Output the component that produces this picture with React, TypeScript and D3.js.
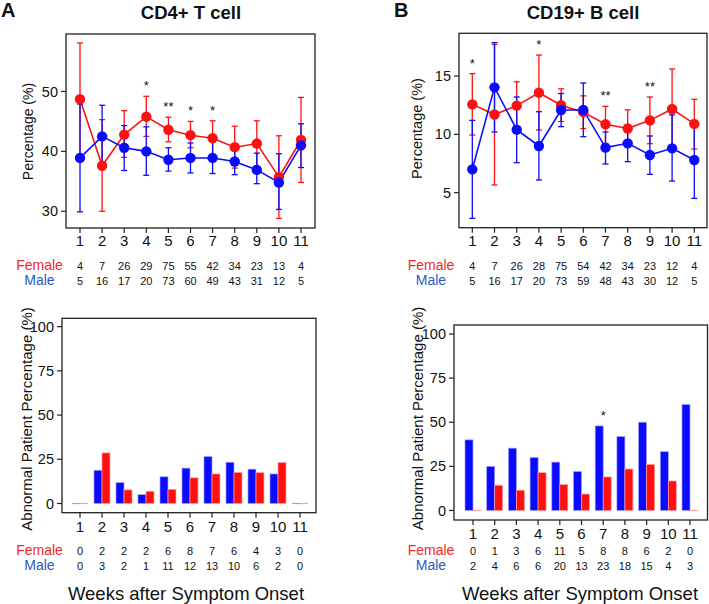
import React from "react";
import * as d3 from "d3";

const weeks = [1, 2, 3, 4, 5, 6, 7, 8, 9, 10, 11];

// CD4+ T cell percentage (mean, lower, upper)
const cd4FemaleMean = [48.7, 37.6, 42.8, 45.8, 43.6, 42.7, 42.2, 40.7, 41.3, 35.7, 41.9];
const cd4FemaleLower = [39.3, 30.0, 39.0, 42.5, 41.6, 40.6, 39.3, 37.2, 37.5, 28.8, 34.8];
const cd4FemaleUpper = [58.1, 45.3, 46.8, 49.2, 45.7, 45.0, 45.1, 44.2, 45.1, 42.6, 49.0];
const cd4MaleMean = [38.9, 42.5, 40.6, 40.0, 38.6, 38.9, 38.9, 38.3, 36.9, 34.8, 41.0];
const cd4MaleLower = [29.9, 37.3, 36.8, 36.0, 36.7, 36.4, 36.3, 36.1, 34.6, 30.3, 37.3];
const cd4MaleUpper = [47.9, 47.7, 44.3, 44.1, 40.6, 41.4, 41.6, 40.5, 39.7, 39.6, 44.6];
const cd4FemaleN = [4, 7, 26, 29, 75, 55, 42, 34, 23, 13, 4];
const cd4MaleN = [5, 16, 17, 20, 73, 60, 49, 43, 31, 12, 5];
const cd4StarWeeks = [4, 5, 6, 7];
const cd4StarLabels = ["*", "**", "*", "*"];
const cd4YTicks = [30, 40, 50];

// CD19+ B cell percentage
const cd19FemaleMean = [12.57, 11.7, 12.46, 13.57, 12.5, 11.9, 10.86, 10.5, 11.2, 12.17, 10.9];
const cd19FemaleLower = [9.94, 5.66, 10.4, 10.37, 11.1, 10.5, 9.2, 8.9, 9.2, 8.8, 8.74];
const cd19FemaleUpper = [15.2, 17.7, 14.5, 16.8, 13.9, 13.3, 12.4, 12.1, 13.2, 15.6, 13.0];
const cd19MaleMean = [7.0, 14.03, 10.4, 9.0, 12.09, 12.09, 8.86, 9.23, 8.23, 8.8, 7.8];
const cd19MaleLower = [2.8, 10.2, 7.57, 6.09, 10.66, 9.8, 7.46, 7.66, 6.57, 6.0, 4.51];
const cd19MaleUpper = [11.2, 17.86, 13.2, 11.94, 13.5, 14.4, 10.2, 10.8, 9.86, 11.66, 11.1];
const cd19FemaleN = [4, 7, 26, 28, 75, 54, 42, 34, 23, 12, 4];
const cd19MaleN = [5, 16, 17, 20, 73, 59, 48, 43, 30, 12, 5];
const cd19StarWeeks = [1, 4, 7, 9];
const cd19StarLabels = ["*", "*", "**", "**"];
const cd19YTicks = [5, 10, 15];

// Abnormal patient percentage
const cd4AbnMale = [0, 18.8, 11.8, 5.0, 15.1, 20.0, 26.5, 23.3, 19.4, 16.7, 0];
const cd4AbnFemale = [0, 28.6, 7.7, 6.9, 8.0, 14.5, 16.7, 17.6, 17.4, 23.1, 0];
const cd4AbnFemaleN = [0, 2, 2, 2, 6, 8, 7, 6, 4, 3, 0];
const cd4AbnMaleN = [0, 3, 2, 1, 11, 12, 13, 10, 6, 2, 0];
const cd4AbnStarWeeks: number[] = [];
const cd4AbnStarLabels: string[] = [];

const cd19AbnMale = [40, 25, 35.3, 30, 27.4, 22.0, 47.9, 41.9, 50, 33.3, 60];
const cd19AbnFemale = [0, 14.3, 11.5, 21.4, 14.7, 9.3, 19.0, 23.5, 26.1, 16.7, 0];
const cd19AbnFemaleN = [0, 1, 3, 6, 11, 5, 8, 8, 6, 2, 0];
const cd19AbnMaleN = [2, 4, 6, 6, 20, 13, 23, 18, 15, 4, 3];
const cd19AbnStarWeeks = [7];
const cd19AbnStarLabels = ["*"];
const abnYTicks = [0, 25, 50, 75, 100];

const FONT = "'Liberation Sans', Arial, Helvetica, sans-serif";
const RED = "#ff1010";
const BLUE = "#0a0aff";
const RED_LIGHT = "#ffa0a0";
const BLUE_LIGHT = "#9c9cff";
const FEMALE_TXT = "#f02828";
const MALE_TXT = "#2c58c6";
const AXIS = "#222";

function XAxis({ x, bottom, baseline }: any) {
  return (
    <g>
      {weeks.map((w) => (
        <g key={w}>
          <line x1={x(w)} x2={x(w)} y1={bottom} y2={bottom + 5} stroke={AXIS} strokeWidth={1.2} />
          <text x={x(w)} y={baseline} fontSize={15} textAnchor="middle" fill="#111" fontFamily={FONT}>
            {w}
          </text>
        </g>
      ))}
    </g>
  );
}

function YAxis({ y, left, ticks }: any) {
  return (
    <g>
      {ticks.map((t: number) => (
        <g key={t}>
          <line x1={left - 5} x2={left} y1={y(t)} y2={y(t)} stroke={AXIS} strokeWidth={1.2} />
          <text x={left - 8} y={y(t)} dy="0.35em" fontSize={14.5} textAnchor="end" fill="#111" fontFamily={FONT}>
            {t}
          </text>
        </g>
      ))}
    </g>
  );
}

function Counts({ x, labelX, fBase, mBase, fN, mN }: any) {
  return (
    <g fontFamily={FONT}>
      <text x={labelX} y={fBase} fontSize={14} textAnchor="middle" fill={FEMALE_TXT}>Female</text>
      <text x={labelX} y={mBase} fontSize={14} textAnchor="middle" fill={MALE_TXT}>Male</text>
      {weeks.map((w, i) => (
        <g key={w}>
          <text x={x(w)} y={fBase} fontSize={11} textAnchor="middle" fill="#111">{fN[i]}</text>
          <text x={x(w)} y={mBase} fontSize={11} textAnchor="middle" fill="#111">{mN[i]}</text>
        </g>
      ))}
    </g>
  );
}

function Series({ x, y, mean, lower, upper, color, part }: any) {
  const line = d3
    .line<number>()
    .x((_, i) => x(weeks[i]))
    .y((d) => y(d));
  if (part === "dots") {
    return (
      <g>
        {mean.map((m: number, i: number) => (
          <circle key={i} cx={x(weeks[i])} cy={y(m)} r={5.2} fill={color} />
        ))}
      </g>
    );
  }
  return (
    <g>
      {mean.map((m: number, i: number) => {
        const cx = x(weeks[i]);
        return (
          <g key={i} stroke={color} strokeWidth={1.3}>
            <line x1={cx} x2={cx} y1={y(lower[i])} y2={y(upper[i])} />
            <line x1={cx - 3} x2={cx + 3} y1={y(lower[i])} y2={y(lower[i])} />
            <line x1={cx - 3} x2={cx + 3} y1={y(upper[i])} y2={y(upper[i])} />
          </g>
        );
      })}
      <path d={line(mean) || ""} fill="none" stroke={color} strokeWidth={1.6} />
    </g>
  );
}

function LinePanel(p: any) {
  const x = d3.scaleLinear().domain([1, 11]).range([p.xStart, p.xEnd]);
  const y = d3.scaleLinear().domain(p.yDomain).range([p.bottom, p.top]);
  return (
    <g>
      <text x={p.letterX} y={17} fontSize={20} fontWeight="bold" fontFamily={FONT} fill="#111">{p.letter}</text>
      <text x={p.titleX} y={19} fontSize={18.5} fontWeight="bold" textAnchor="middle" fontFamily={FONT} fill="#111">
        {p.title}
      </text>
      <rect x={p.left} y={p.top} width={p.right - p.left} height={p.bottom - p.top} fill="none" stroke={AXIS} strokeWidth={1.3} />
      <YAxis y={y} left={p.left} ticks={p.yTicks} />
      <XAxis x={x} bottom={p.bottom} baseline={p.tickBaseline} />
      <text
        transform={`translate(${p.yLabelX},${p.yLabelY}) rotate(-90)`}
        fontSize={p.yLabelSize}
        textAnchor="middle"
        dominantBaseline="central"
        fontFamily={FONT}
        fill="#111"
      >
        Percentage (%)
      </text>
      <Series x={x} y={y} mean={p.fMean} lower={p.fLo} upper={p.fHi} color={RED} />
      <Series x={x} y={y} mean={p.mMean} lower={p.mLo} upper={p.mHi} color={BLUE} />
      <Series x={x} y={y} mean={p.fMean} color={RED} part="dots" />
      <Series x={x} y={y} mean={p.mMean} color={BLUE} part="dots" />
      {p.starWeeks.map((w: number, k: number) => {
        const i = weeks.indexOf(w);
        const top = Math.max(p.fHi[i], p.mHi[i]);
        return (
          <text key={w} x={x(w)} y={y(top) - 6} fontSize={13} textAnchor="middle" fontFamily={FONT} fill="#111">
            {p.starLabels[k]}
          </text>
        );
      })}
      <Counts x={x} labelX={p.countLabelX} fBase={270} mBase={285} fN={p.fN} mN={p.mN} />
    </g>
  );
}

function Bar({ x0, y, value, fill, light, bw }: any) {
  const y0 = y(0);
  if (value <= 0) {
    return <line x1={x0} x2={x0 + bw} y1={y0} y2={y0} stroke={light} strokeWidth={1.2} />;
  }
  return (
    <rect x={x0} y={y(value)} width={bw} height={y0 - y(value)} fill={fill} stroke={light} strokeWidth={0.7} />
  );
}

function BarPanel(p: any) {
  const x = d3.scaleLinear().domain([1, 11]).range([p.xStart, p.xEnd]);
  const y = d3.scaleLinear().domain(p.yDomain).range([p.bottom, p.top]);
  const bw = 8;
  return (
    <g>
      <rect x={p.left} y={p.top} width={p.right - p.left} height={p.bottom - p.top} fill="none" stroke={AXIS} strokeWidth={1.3} />
      <YAxis y={y} left={p.left} ticks={abnYTicks} />
      <XAxis x={x} bottom={p.bottom} baseline={p.tickBaseline} />
      <text
        transform={`translate(${p.yLabelX},${p.yLabelY}) rotate(-90)`}
        fontSize={15}
        textAnchor="middle"
        dominantBaseline="central"
        fontFamily={FONT}
        fill="#111"
      >
        Abnormal Patient Percentage (%)
      </text>
      {weeks.map((w, i) => {
        const cx = x(w);
        return (
          <g key={w}>
            <Bar x0={cx - bw} y={y} value={p.male[i]} fill={BLUE} light={BLUE_LIGHT} bw={bw} />
            <Bar x0={cx} y={y} value={p.female[i]} fill={RED} light={RED_LIGHT} bw={bw} />
          </g>
        );
      })}
      {p.starWeeks.map((w: number, k: number) => {
        const i = weeks.indexOf(w);
        return (
          <text key={w} x={x(w)} y={y(p.male[i]) - 6} fontSize={13} textAnchor="middle" fontFamily={FONT} fill="#111">
            {p.starLabels[k]}
          </text>
        );
      })}
      <Counts x={x} labelX={p.countLabelX} fBase={555} mBase={570} fN={p.fN} mN={p.mN} />
      <text x={p.xLabelX} y={600} fontSize={18.5} textAnchor="middle" fontFamily={FONT} fill="#111">
        Weeks after Symptom Onset
      </text>
    </g>
  );
}

export default function App() {
  return (
    <svg
      width={709}
      height={604}
      viewBox="0 0 709 604"
      style={{ position: "absolute", left: 0, top: 0, background: "#fff" }}
    >
      <rect x={0} y={0} width={709} height={604} fill="#fff" />
      <LinePanel
        letter="A" letterX={1} title="CD4+ T cell" titleX={191}
        left={66} right={315} top={34} bottom={228}
        xStart={80} xEnd={301}
        yDomain={[27.2, 59.6]} yTicks={cd4YTicks}
        tickBaseline={246}
        yLabelX={28} yLabelY={131.5} yLabelSize={14}
        fMean={cd4FemaleMean} fLo={cd4FemaleLower} fHi={cd4FemaleUpper}
        mMean={cd4MaleMean} mLo={cd4MaleLower} mHi={cd4MaleUpper}
        starWeeks={cd4StarWeeks} starLabels={cd4StarLabels}
        countLabelX={39.5} fN={cd4FemaleN} mN={cd4MaleN}
      />
      <LinePanel
        letter="B" letterX={394} title="CD19+ B cell" titleX={583}
        left={459} right={707} top={33.3} bottom={227.7}
        xStart={472.3} xEnd={694.3}
        yDomain={[2.0, 18.66]} yTicks={cd19YTicks}
        tickBaseline={245.5}
        yLabelX={417} yLabelY={128.5} yLabelSize={14.5}
        fMean={cd19FemaleMean} fLo={cd19FemaleLower} fHi={cd19FemaleUpper}
        mMean={cd19MaleMean} mLo={cd19MaleLower} mHi={cd19MaleUpper}
        starWeeks={cd19StarWeeks} starLabels={cd19StarLabels}
        countLabelX={431} fN={cd19FemaleN} mN={cd19MaleN}
      />
      <BarPanel
        left={62} right={316} top={318.3} bottom={512.7}
        xStart={80} xEnd={300}
        yDomain={[-5.2, 104.7]}
        tickBaseline={532}
        yLabelX={26} yLabelY={419}
        male={cd4AbnMale} female={cd4AbnFemale}
        starWeeks={cd4AbnStarWeeks} starLabels={cd4AbnStarLabels}
        countLabelX={39.5} fN={cd4AbnFemaleN} mN={cd4AbnMaleN}
        xLabelX={186}
      />
      <BarPanel
        left={454} right={707.5} top={325} bottom={520}
        xStart={473} xEnd={690}
        yDomain={[-5.4, 105.1]}
        tickBaseline={539}
        yLabelX={417} yLabelY={418.5}
        male={cd19AbnMale} female={cd19AbnFemale}
        starWeeks={cd19AbnStarWeeks} starLabels={cd19AbnStarLabels}
        countLabelX={431} fN={cd19AbnFemaleN} mN={cd19AbnMaleN}
        xLabelX={580}
      />
    </svg>
  );
}
